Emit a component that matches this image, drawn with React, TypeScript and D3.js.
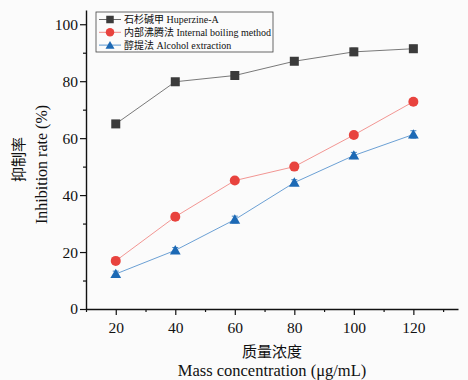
import { useEffect, useRef } from "react";
import * as d3 from "d3";

// Data
const concentrations = [20, 40, 60, 80, 100, 120];
const huperzine = [65.0, 79.8, 82.0, 87.0, 90.3, 91.4];
const huperzineErr = [1.2, 1.0, 1.3, 1.0, 1.3, 1.2];
const boiling = [16.9, 32.4, 45.1, 50.0, 61.1, 72.8];
const boilingErr = [1.2, 1.3, 1.0, 1.2, 1.2, 1.0];
const alcohol = [12.3, 20.6, 31.4, 44.4, 53.9, 61.3];
const alcoholErr = [1.0, 1.0, 1.2, 1.0, 1.1, 1.3];
const seriesNames = [
  "石杉碱甲 Huperzine-A",
  "内部沸腾法 Internal boiling method",
  "醇提法 Alcohol extraction",
];
const xTicks = [20, 40, 60, 80, 100, 120];
const xMinor = [10, 30, 50, 70, 90, 110, 130];
const yTicks = [0, 20, 40, 60, 80, 100];
const yMinor = [10, 30, 50, 70, 90];

const FONT = "'Liberation Serif', 'Times New Roman', 'Noto Sans CJK SC', serif";

const App = () => {
  const xAxisRef = useRef<SVGGElement>(null);
  const yAxisRef = useRef<SVGGElement>(null);

  const margin = { left: 86, right: 10, top: 10, bottom: 71 };
  const W = 468;
  const H = 380;

  const x = d3.scaleLinear().domain([10, 135]).range([margin.left, W - margin.right]);
  const y = d3.scaleLinear().domain([0, 105]).range([H - margin.bottom, margin.top]);

  useEffect(() => {
    // bottom axis with major + minor ticks
    const gx = d3.select(xAxisRef.current);
    gx.selectAll("*").remove();
    gx.append("g")
      .call(d3.axisBottom(x).tickValues(xTicks).tickSize(6).tickSizeOuter(0))
      .call((g) => g.select(".domain").attr("stroke", "#111").attr("stroke-width", 1.4))
      .call((g) => g.selectAll(".tick line").attr("stroke", "#111").attr("stroke-width", 1.2))
      .call((g) =>
        g.selectAll(".tick text")
          .attr("font-family", FONT)
          .attr("font-size", 15.5)
          .attr("fill", "#111")
          .attr("dy", "0.95em")
      );
    gx.append("g")
      .call(d3.axisBottom(x).tickValues(xMinor).tickSize(3).tickFormat(() => ""))
      .call((g) => g.select(".domain").remove())
      .call((g) => g.selectAll(".tick line").attr("stroke", "#111").attr("stroke-width", 1.2));

    // left axis with major + minor ticks
    const gy = d3.select(yAxisRef.current);
    gy.selectAll("*").remove();
    gy.append("g")
      .call(d3.axisLeft(y).tickValues(yTicks).tickSize(6).tickSizeOuter(0))
      .call((g) => g.select(".domain").attr("stroke", "#111").attr("stroke-width", 1.4))
      .call((g) => g.selectAll(".tick line").attr("stroke", "#111").attr("stroke-width", 1.2))
      .call((g) =>
        g.selectAll(".tick text")
          .attr("font-family", FONT)
          .attr("font-size", 15.5)
          .attr("fill", "#111")
          .attr("x", -8)
      );
    gy.append("g")
      .call(d3.axisLeft(y).tickValues(yMinor).tickSize(3).tickFormat(() => ""))
      .call((g) => g.select(".domain").remove())
      .call((g) => g.selectAll(".tick line").attr("stroke", "#111").attr("stroke-width", 1.2));
  }, []);

  const series = [
    { name: seriesNames[0], values: huperzine, err: huperzineErr, fill: "#3b3b3b", line: "#6a6a6a", shape: "square" },
    { name: seriesNames[1], values: boiling, err: boilingErr, fill: "#e8433e", line: "#f08a87", shape: "circle" },
    { name: seriesNames[2], values: alcohol, err: alcoholErr, fill: "#1c69b5", line: "#5a95cf", shape: "triangle" },
  ];

  const line = d3
    .line<number>()
    .x((_, i) => x(concentrations[i]))
    .y((d) => y(d));

  const marker = (shape: string, cx: number, cy: number, fill: string, size: number) => {
    if (shape === "square")
      return <rect x={cx - size / 2} y={cy - size / 2} width={size} height={size} fill={fill} />;
    if (shape === "circle") return <circle cx={cx} cy={cy} r={size / 2 + 0.5} fill={fill} />;
    const sym = d3.symbol().type(d3.symbolTriangle).size(size * size * 0.62)();
    return <path d={sym || ""} transform={`translate(${cx},${cy + 1})`} fill={fill} />;
  };

  const legendX = 96;
  const legendY = 12;

  return (
    <svg
      width={W}
      height={H}
      style={{ position: "absolute", left: 0, top: 0, background: "#fbfbfb" }}
    >
      <rect width={W} height={H} fill="#fbfbfb" />

      {series.map((s) => (
        <g key={s.name}>
          <path d={line(s.values) || ""} fill="none" stroke={s.line} strokeWidth={0.9} />
          {s.values.map((v, i) => (
            <g key={i}>
              <line
                x1={x(concentrations[i])}
                x2={x(concentrations[i])}
                y1={y(v - s.err[i])}
                y2={y(v + s.err[i])}
                stroke={s.fill}
                strokeWidth={0.8}
              />
              <line x1={x(concentrations[i]) - 3} x2={x(concentrations[i]) + 3} y1={y(v + s.err[i])} y2={y(v + s.err[i])} stroke={s.fill} strokeWidth={0.8} />
              <line x1={x(concentrations[i]) - 3} x2={x(concentrations[i]) + 3} y1={y(v - s.err[i])} y2={y(v - s.err[i])} stroke={s.fill} strokeWidth={0.8} />
              {marker(s.shape, x(concentrations[i]), y(v), s.fill, 9)}
            </g>
          ))}
        </g>
      ))}

      <g ref={xAxisRef} transform={`translate(0,${H - margin.bottom})`} />
      <g ref={yAxisRef} transform={`translate(${margin.left},0)`} />

      {/* legend */}
      <rect x={legendX} y={legendY} width={177} height={40} fill="#fbfbfb" stroke="#444" strokeWidth={0.8} />
      {series.map((s, i) => {
        const ly = legendY + 7.5 + i * 12.8;
        return (
          <g key={s.name}>
            <line x1={legendX + 3} x2={legendX + 25} y1={ly} y2={ly} stroke={s.line} strokeWidth={1} />
            {marker(s.shape, legendX + 14, ly, s.fill, 7.5)}
            <text x={legendX + 28} y={ly + 3.6} fontFamily={FONT} fontSize={10} fill="#111">
              {s.name}
            </text>
          </g>
        );
      })}

      {/* axis titles */}
      <text
        transform={`translate(24,${(margin.top + H - margin.bottom) / 2}) rotate(-90)`}
        textAnchor="middle"
        fontFamily={FONT}
        fontSize={15}
        fill="#111"
      >
        抑制率
      </text>
      <text
        transform={`translate(47,${(margin.top + H - margin.bottom) / 2 + 5}) rotate(-90)`}
        textAnchor="middle"
        fontFamily={FONT}
        fontSize={16}
        fill="#111"
      >
        Inhibition rate (%)
      </text>
      <text x={(margin.left + W - margin.right) / 2} y={357} textAnchor="middle" fontFamily={FONT} fontSize={15} fill="#111">
        质量浓度
      </text>
      <text x={(margin.left + W - margin.right) / 2} y={376} textAnchor="middle" fontFamily={FONT} fontSize={16.5} fill="#111">
        Mass concentration (μg/mL)
      </text>
    </svg>
  );
};

export default App;
